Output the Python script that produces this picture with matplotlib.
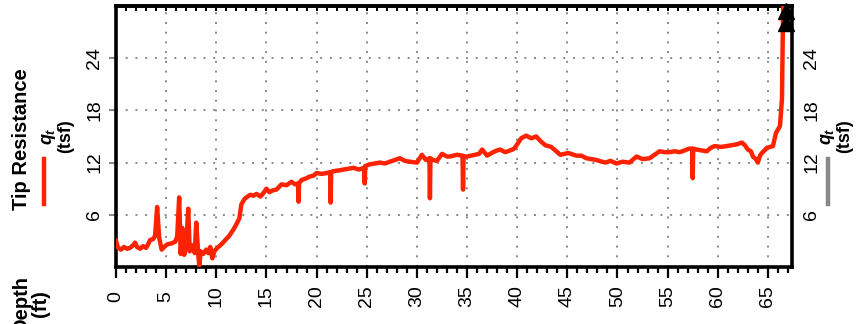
import matplotlib
matplotlib.use("Agg")
import matplotlib.pyplot as plt
from matplotlib.ticker import MultipleLocator, FixedLocator
from matplotlib.lines import Line2D

plt.rcParams['font.family'] = ['Liberation Sans', 'DejaVu Sans']
plt.rcParams['mathtext.fontset'] = 'custom'
plt.rcParams['mathtext.it'] = 'Liberation Sans:bold:italic'
plt.rcParams['mathtext.rm'] = 'Liberation Sans:bold'

# ---- data ----
depth_ft = [0.0, 0.2, 0.5, 0.8, 1.1, 1.4, 1.7, 1.9, 2.1, 2.4, 2.7, 3.0, 3.2, 3.4, 3.7, 3.9,
            4.1, 4.3, 4.55, 4.8, 5.1, 5.5, 5.9, 6.1, 6.3, 6.45, 6.6, 6.8, 7.0, 7.2, 7.35, 7.6,
            7.85, 8.0, 8.2, 8.3, 8.45, 8.7, 9.0, 9.2, 9.4, 9.6, 9.8, 10.1, 10.5, 10.9, 11.3,
            11.7, 12.0, 12.3, 12.5, 12.8, 13.0, 13.4, 13.7, 14.0, 14.4, 14.7, 15.0, 15.3, 15.6,
            16.0, 16.5, 17.0, 17.5, 17.85, 18.15, 18.2, 18.25, 18.5, 19.0, 19.3, 19.7, 20.0,
            20.5, 21.0, 21.35, 21.4, 21.45, 21.6, 22.2, 22.7, 23.2, 23.7, 24.2, 24.75, 24.8,
            24.85, 25.3, 25.8, 26.3, 26.8, 27.3, 27.8, 28.3, 28.8, 29.3, 30.0, 30.5, 30.9,
            31.25, 31.3, 31.35, 31.6, 32.0, 32.5, 33.0, 33.3, 34.0, 34.55, 34.6, 34.65, 35.0,
            35.4, 35.8, 36.2, 36.5, 37.0, 37.6, 38.0, 38.3, 38.8, 39.3, 39.7, 40.0, 40.4, 40.9,
            41.4, 41.9, 42.3, 42.8, 43.4, 43.9, 44.3, 45.1, 45.9, 46.4, 46.9, 47.4, 47.9, 48.3,
            48.8, 49.3, 49.9, 50.5, 51.2, 51.9, 52.5, 53.2, 53.7, 54.2, 54.7, 55.2, 55.7, 56.2,
            56.7, 57.1, 57.45, 57.5, 57.55, 57.9, 58.4, 58.9, 59.3, 59.7, 60.3, 60.9, 61.4,
            61.9, 62.4, 62.7, 63.0, 63.3, 63.5, 63.8, 64.0, 64.2, 64.4, 64.9, 65.2, 65.5, 65.8,
            66.2, 66.4, 66.5, 66.55]
qt_tsf = [3.0, 2.2, 2.0, 2.3, 2.1, 2.2, 2.5, 2.8, 2.3, 2.1, 2.4, 2.2, 2.6, 3.1, 3.2, 3.6,
          6.9, 3.4, 2.0, 2.3, 2.6, 2.7, 2.9, 3.5, 8.0, 1.5, 4.5, 1.4, 2.5, 6.7, 1.8, 2.5,
          1.6, 5.1, 1.5, 0.2, 1.8, 1.5, 2.0, 1.6, 2.3, 1.0, 1.8, 2.2, 2.6, 3.1, 3.6,
          4.3, 4.9, 5.6, 7.2, 7.8, 8.0, 8.3, 8.2, 8.4, 8.1, 8.5, 9.0, 8.6, 8.8,
          8.9, 9.5, 9.4, 9.8, 9.5, 9.6, 7.5, 9.6, 10.0, 10.2, 10.4, 10.5, 10.8,
          10.7, 10.8, 10.9, 7.4, 10.9, 11.0, 11.1, 11.2, 11.3, 11.4, 11.2, 11.4, 9.6,
          11.6, 11.8, 11.9, 12.0, 11.9, 12.1, 12.3, 12.5, 12.2, 12.1, 12.0, 12.9, 12.3,
          12.5, 7.9, 12.5, 12.3, 12.2, 13.0, 12.7, 12.7, 12.9, 12.8, 8.9, 12.7, 12.7,
          12.8, 12.9, 13.0, 13.5, 12.8, 13.2, 13.4, 13.5, 13.2, 13.4, 13.6, 14.1, 14.8, 15.1,
          14.8, 15.0, 14.5, 14.0, 13.8, 13.3, 12.9, 13.1, 12.8, 12.8, 12.5, 12.4, 12.3, 12.15,
          12.0, 12.2, 11.9, 12.1, 12.0, 12.7, 12.4, 12.5, 12.9, 13.3, 13.2, 13.2, 13.3, 13.2,
          13.4, 13.6, 13.6, 10.2, 13.6, 13.5, 13.4, 13.3, 13.7, 13.9, 13.8, 13.9, 14.0,
          14.1, 14.3, 14.0, 13.5, 13.3, 12.7, 12.4, 12.0, 12.8, 13.1, 13.7, 13.8, 13.9, 15.4,
          16.2, 19.3, 28.5, 31.0]

offscale_depth = [66.8, 66.8]
offscale_qt = [29.4, 28.0]

depth_ticks = [0, 5, 10, 15, 20, 25, 30, 35, 40, 45, 50, 55, 60, 65]
qt_ticks = [6, 12, 18, 24]

# ---- figure ----
W, H = 858, 324
fig = plt.figure(figsize=(W / 100, H / 100), dpi=100)
ax = fig.add_axes([116 / W, 1 - 267 / H, (792 - 116) / W, (267 - 6) / H])

red = '#ff2200'
gray = '#888888'

ax.plot(depth_ft, qt_tsf, color=red, lw=3.2, solid_joinstyle='round', zorder=3)
ax.plot(offscale_depth, offscale_qt, linestyle='none', marker='^', ms=11,
        color='black', clip_on=False, zorder=5)

ax.set_xlim(0, 67.4)
ax.set_ylim(0, 30)

ax.xaxis.set_major_locator(FixedLocator(depth_ticks))
ax.xaxis.set_minor_locator(MultipleLocator(1))
ax.yaxis.set_major_locator(FixedLocator(qt_ticks))
ax.set_xticklabels([str(t) for t in depth_ticks])
ax.set_yticklabels([str(t) for t in qt_ticks])

ax.grid(True, which='major', color=gray, linestyle=(0, (1, 4)), linewidth=1.4, zorder=1)

for s in ax.spines.values():
    s.set_linewidth(2.6)
    s.set_color('black')

ax.tick_params(axis='x', which='major', direction='out', length=8, width=1.6,
               color='black', labelsize=14, pad=13, labelrotation=90)
ax.tick_params(axis='x', which='minor', direction='out', length=4.3, width=1.6,
               color='black')
for lab in ax.get_xticklabels():
    lab.set_va('center')
    lab.set_ha('center')

ax.tick_params(axis='y', which='major', direction='out', length=5, width=1.4,
               color=gray, labelsize=14, pad=4, labelrotation=90)
for lab in ax.get_yticklabels():
    lab.set_va('center')

# top inward ticks
top = ax.secondary_xaxis('top')
top.xaxis.set_major_locator(MultipleLocator(1))
top.tick_params(axis='x', direction='in', length=3.6, width=1.4, color='black',
                labeltop=False)
top.spines['top'].set_linewidth(2.6)

# right tick labels
ax2 = ax.twinx()
ax2.set_ylim(0, 30)
ax2.yaxis.set_major_locator(FixedLocator(qt_ticks))
ax2.set_yticklabels([str(t) for t in qt_ticks])
ax2.tick_params(axis='y', length=0, labelsize=14, pad=8, labelrotation=90)
for lab in ax2.get_yticklabels():
    lab.set_va('center')
for s in ax2.spines.values():
    s.set_visible(False)


def fx(px):
    return px / W


def fy(py):
    return 1 - py / H


fig.text(fx(22), fy(139), 'Tip Resistance', rotation=90, ha='center', va='center',
         fontsize=14.5, fontweight='bold')
fig.text(fx(57), fy(136), '$q_t$\n(tsf)', rotation=90, ha='center', va='center',
         fontsize=13, fontweight='bold', multialignment='center', linespacing=0.95)
fig.add_artist(Line2D([fx(44), fx(44)], [fy(159), fy(204)], color=red, lw=3.2,
                      transform=fig.transFigure))

fig.text(fx(836), fy(136), '$q_t$\n(tsf)', rotation=90, ha='center', va='center',
         fontsize=13, fontweight='bold', multialignment='center', linespacing=0.95)
fig.add_artist(Line2D([fx(828), fx(828)], [fy(159), fy(204)], color=gray, lw=3.2,
                      transform=fig.transFigure))

fig.text(fx(31), fy(304), 'Depth\n(ft)', rotation=90, ha='center', va='center',
         fontsize=14.5, fontweight='bold', multialignment='center', linespacing=1.0)

fig.savefig('out.png', dpi=100)
